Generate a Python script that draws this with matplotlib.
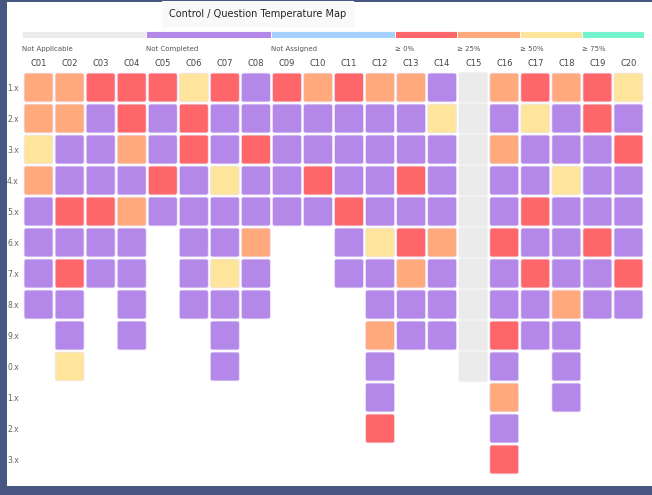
import matplotlib
matplotlib.use("Agg")
import matplotlib.pyplot as plt
from matplotlib.patches import FancyBboxPatch

# legend categories
legend_labels = ["Not Applicable", "Not Completed", "Not Assigned", "≥ 0%", "≥ 25%", "≥ 50%", "≥ 75%"]
legend_codes = ["N", "P", "B", "R", "O", "Y", "G"]
legend_span = [2, 2, 2, 1, 1, 1, 1]
colors = {"N": "#ebebeb", "P": "#b388e8", "B": "#a6d1ff", "R": "#ff6669",
          "O": "#ffa97c", "Y": "#ffe49c", "G": "#75f3ce"}

columns = ["C%02d" % i for i in range(1, 21)]
rows = ["1.x", "2.x", "3.x", "4.x", "5.x", "6.x", "7.x", "8.x", "9.x", "0.x", "1.x", "2.x", "3.x"]

# one string per row, one char per column, "." = no cell
grid = [
    "OORRRYRPROROOPNOROR" + "Y",
    "OOPRPRPPPPPPPYNPYPRP",
    "YPPOPRPRPPPPPPNOPPPR",
    "OPPPRPYPPRPPRPNPPYPP",
    "PRROPPPPPPRPPPNPRPPP",
    "PPPP.PPO..PYRONRPPRP",
    "PRPP.PYP..PPOPNPRPPR",
    "PP.P.PPP...PPPNPPOPP",
    ".P.P..P....OPPNRPP..",
    ".Y....P....P..NP.P..",
    "...........P...O.P..",
    "...........R...P....",
    "...............R....",
]

fig = plt.figure(figsize=(6.52, 4.95), dpi=100)
fig.patch.set_facecolor("#485682")

# white panel
panel = fig.add_axes([7 / 652, 9 / 495, 645 / 652, 484 / 495])
panel.set_facecolor("white")
panel.set_xticks([])
panel.set_yticks([])
for s in panel.spines.values():
    s.set_visible(False)

fig.text(258 / 652, 1 - 14 / 495, "Control / Question Temperature Map", ha="center", va="center",
         fontsize=7, color="#252525",
         bbox=dict(boxstyle="square,pad=0.8", facecolor="#f9f9f9", edgecolor="none"))

# legend bar
lax = fig.add_axes([22 / 652, 1 - 38 / 495, 622 / 652, 7 / 495])
start = 0
for lab, code, span in zip(legend_labels, legend_codes, legend_span):
    lax.barh(0, span, left=start, height=1, color=colors[code], edgecolor="white", linewidth=0.6)
    lax.text(start, -2.1, lab, ha="left", va="center", fontsize=5, color="#555555")
    start += span
lax.set_xlim(0, sum(legend_span))
lax.set_ylim(-0.5, 0.5)
lax.axis("off")

# heatmap
nrow, ncol = len(rows), len(columns)
ax = fig.add_axes([23 / 652, 1 - 475 / 495, 621 / 652, 403 / 495])
ax.set_xlim(-0.5, ncol - 0.5)
ax.set_ylim(nrow - 0.5, -0.5)
ax.patch.set_alpha(0)
g = 0.035
for r, line in enumerate(grid):
    for c, code in enumerate(line):
        if code == ".":
            continue
        if code == "N":
            gy = 0.01
            edge = "#f2f2f2"
        else:
            gy = g
            edge = "#ece4f8"
        ax.add_patch(FancyBboxPatch((c - 0.5 + g, r - 0.5 + gy), 1 - 2 * g, 1 - 2 * gy,
                                    boxstyle="round,pad=0,rounding_size=0.07",
                                    facecolor=colors[code], edgecolor=edge, linewidth=0.5))
ax.xaxis.tick_top()
ax.set_xticks(range(ncol))
ax.set_xticklabels(columns, fontsize=6, color="#444444")
ax.set_yticks(range(nrow))
ax.set_yticklabels(rows, fontsize=5.5, color="#666666")
ax.tick_params(length=0, pad=3)
for s in ax.spines.values():
    s.set_visible(False)

fig.savefig("out.png", dpi=100, facecolor=fig.get_facecolor())
